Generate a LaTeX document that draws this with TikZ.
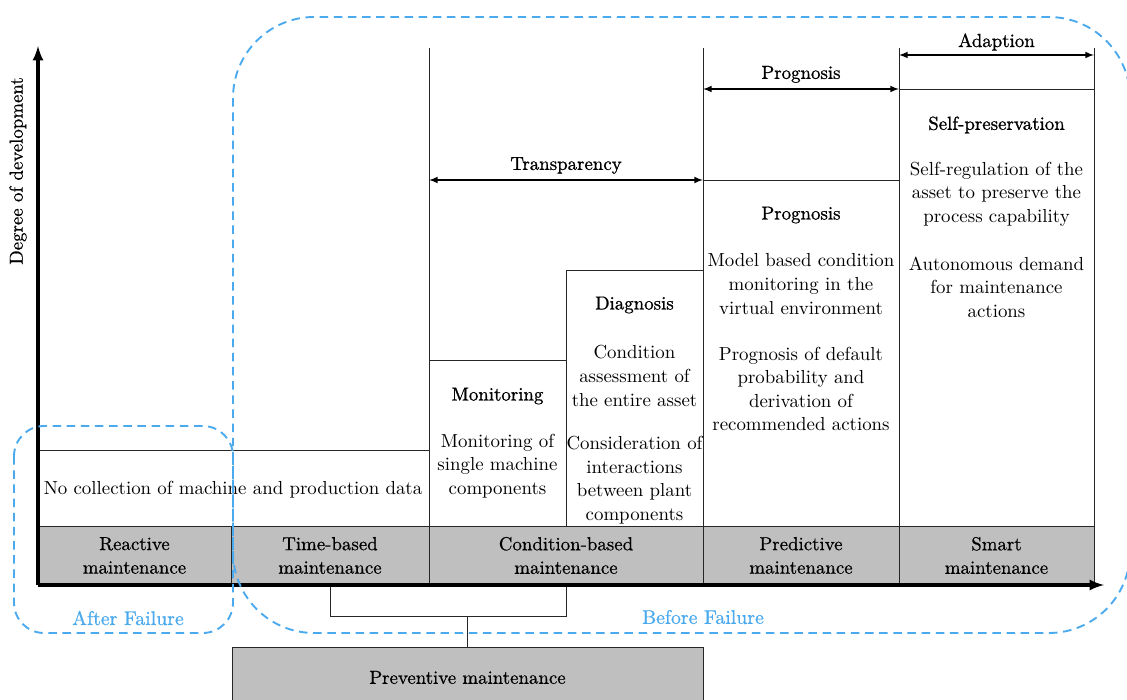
\documentclass[tikz,border=0pt]{standalone}
\usepackage{fontspec}
\usepackage{tikz}
\usepackage{xcolor}

\newfontfamily\headfont[FakeBold=1]{lmroman10-regular.otf}
\newfontfamily\cellfont[FakeBold=0.6]{lmroman10-regular.otf}
\newcommand{\pxu}{0.53pt}
\definecolor{cellgray}{RGB}{191,191,191}
\definecolor{failblue}{RGB}{75,170,238}

\tikzset{
  cellline/.style={draw=black!85, line width=0.5pt},
  bodytext/.style={align=center, inner sep=1pt, font=\fontsize{10}{12.5}\selectfont},
  headtext/.style={align=center, inner sep=1pt, font=\headfont\fontsize{10}{12.5}\selectfont},
  graycell/.style={cellline, fill=cellgray, inner sep=0pt, minimum height=59*\pxu, align=center, font=\cellfont\fontsize{10}{12.5}\selectfont},
  dimarrow/.style={line width=0.6pt, latex-latex},
  axisline/.style={line width=1.6pt, -latex},
  failure/.style={draw=failblue, line width=1pt, dash pattern=on 4.5pt off 3pt},
  failtext/.style={text=failblue, font=\cellfont\fontsize{10.5}{12.5}\selectfont}
}

\begin{document}
\begin{tikzpicture}[x=\pxu,y=-\pxu]
\clip (0,0) rectangle (1127,700);
\fill[white] (0,0) rectangle (1127,700);

% white cells
\draw[cellline] (38,450) rectangle (429,526);
\draw[cellline] (429,360) rectangle (566,526);
\draw[cellline] (566,270) rectangle (703,526);
\draw[cellline] (703,180) rectangle (899,526);
\draw[cellline] (899,89) rectangle (1094,526);
\draw[cellline] (429,48) -- (429,360);
\draw[cellline] (703,48) -- (703,180);
\draw[cellline] (899,48) -- (899,89);
\draw[cellline] (1094,48) -- (1094,89);

% stage arrows
\coordinate (trL) at (429,180); \coordinate (trR) at (703,180);
\coordinate (prL) at (703,89);  \coordinate (prR) at (899,89);
\coordinate (adL) at (899,55);  \coordinate (adR) at (1094,55);
\draw[dimarrow] (trL) -- node[above, headtext, inner sep=3pt] (transp) {Transparency} (trR);
\draw[dimarrow] (prL) -- node[above, headtext, inner sep=3pt] (progn) {Prognosis} (prR);
\draw[dimarrow] (adL) -- node[above, headtext, inner sep=2pt] (adapt) {Adaption} (adR);

% cell texts
\node[bodytext] (nocoll) at (233,490) {No collection of machine and production data};
\node[headtext] (monh) at (497.5,396) {Monitoring};
\node[bodytext] (monb) at (497.5,466) {Monitoring of\\single machine\\components};
\node[headtext] (diah) at (634.5,305) {Diagnosis};
\node[bodytext] (diab1) at (634.5,376) {Condition\\assessment of\\the entire asset};
\node[bodytext] (diab2) at (634.5,480) {Consideration of\\interactions\\between plant\\components};
\node[headtext] (proh) at (801,215) {Prognosis};
\node[bodytext] (prob1) at (801,284) {Model based condition\\monitoring in the\\virtual environment};
\node[bodytext] (prob2) at (801,389) {Prognosis of default\\probability and\\derivation of\\recommended actions};
\node[headtext] (selfh) at (996.5,125) {Self-preservation};
\node[bodytext] (selfb1) at (996.5,194) {Self-regulation of the\\asset to preserve the\\process capability};
\node[bodytext] (selfb2) at (996.5,287) {Autonomous demand\\for maintenance\\actions};

% maintenance strategies
\node[graycell, minimum width=193*\pxu] (reactive) at (134.5,555.5) {Reactive\\maintenance};
\node[graycell, minimum width=198*\pxu] (timebased) at (330,555.5) {Time-based\\maintenance};
\node[graycell, minimum width=274*\pxu] (condbased) at (566,555.5) {Condition-based\\maintenance};
\node[graycell, minimum width=196*\pxu] (predictive) at (801,555.5) {Predictive\\maintenance};
\node[graycell, minimum width=195*\pxu] (smart) at (996.5,555.5) {Smart\\maintenance};
\node[graycell, anchor=north, minimum width=471*\pxu, minimum height=60*\pxu] (preventive) at (467.5,647) {Preventive maintenance};

% bracket
\draw[cellline] (timebased.south) -- ++(0,31) -| (condbased.south);
\draw[cellline] (preventive.north) -- ++(0,-31);

% axes
\coordinate (origin) at (38,585);
\coordinate (ytop) at (38,46);
\coordinate (xend) at (1104,585);
\draw[axisline] (origin) -- (ytop);
\draw[axisline] (origin) -- (xend);
\node[graycell, draw=none, fill=none, rotate=90] (ylabel) at (18,171) {Degree of development};

% failure areas
\draw[failure, rounded corners=16pt] (14,426) rectangle (233,633);
\draw[failure, rounded corners=43pt] (233,17) rectangle (1130,633);
\node[failtext] (after) at (128,618) {After Failure};
\node[failtext] (before) at (703,617) {Before Failure};
\end{tikzpicture}
\end{document}
